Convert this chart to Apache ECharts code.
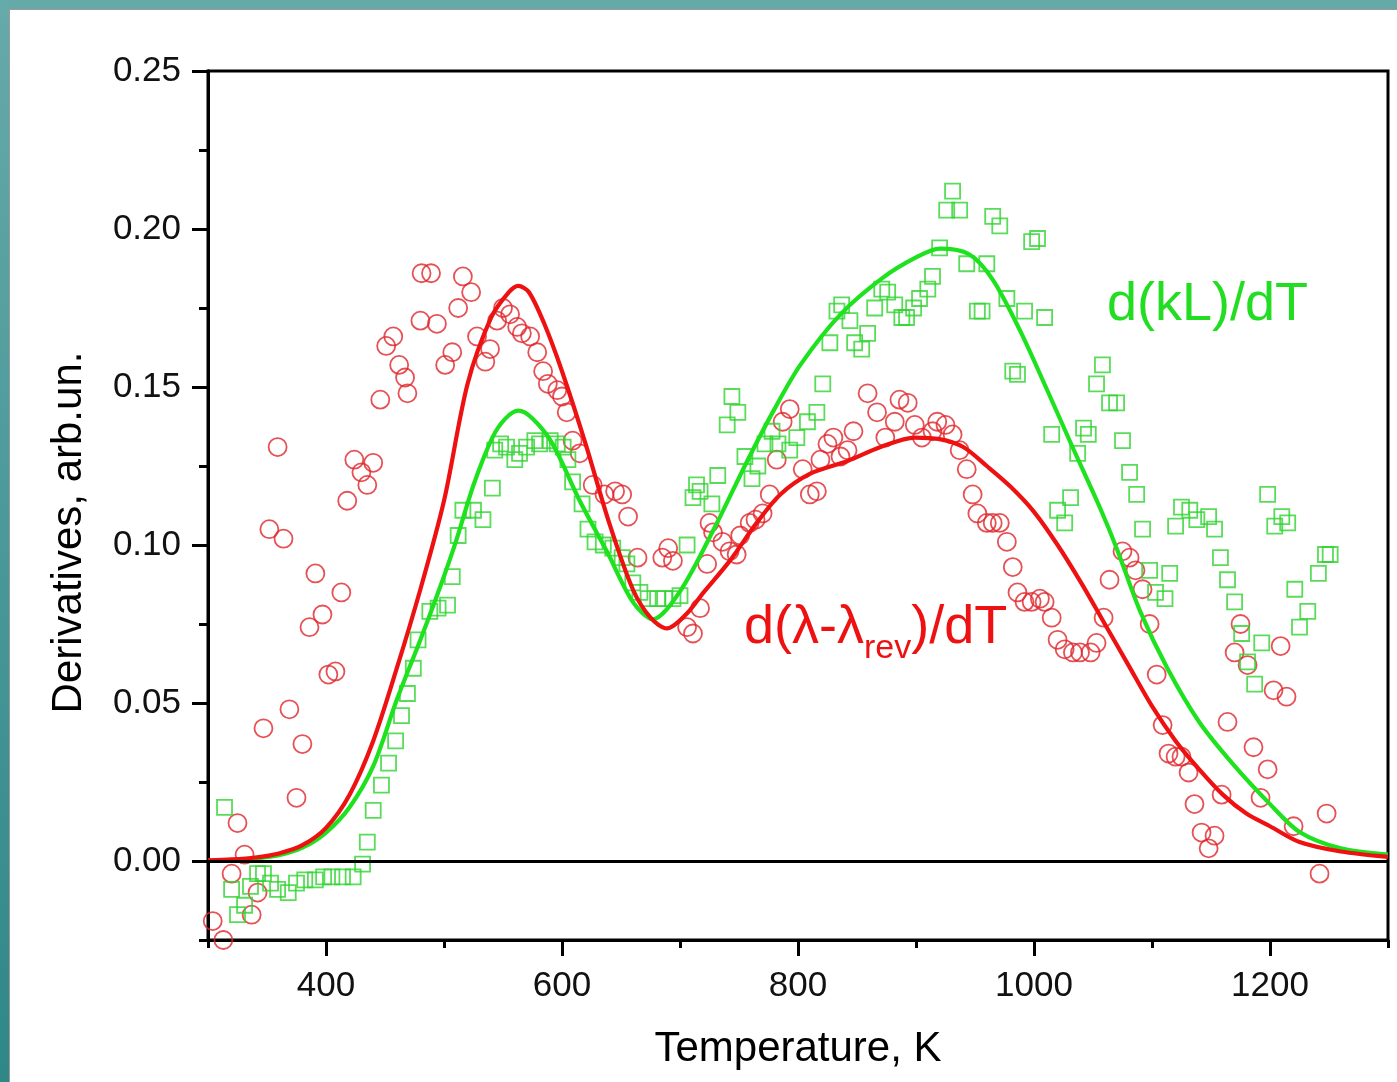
<!DOCTYPE html>
<html>
<head>
<meta charset="utf-8">
<script src="https://cdn.jsdelivr.net/npm/echarts@6/dist/echarts.min.js"></script>
<style>
html,body{margin:0;padding:0;background:#fff;}
#chart{width:1397px;height:1082px;}
</style>
</head>
<body>
<div id="chart"></div>
<script>
// ---- axis ticks ----
const tempTicks = [400, 600, 800, 1000, 1200];
const tempMinor = [300, 500, 700, 900, 1100, 1300];
const derivTicks = [0, 0.05, 0.10, 0.15, 0.20, 0.25];
const derivMinor = [-0.025, 0.025, 0.075, 0.125, 0.175, 0.225];

// ---- fitted curves ----
const lambdaFitT = [300, 320, 340, 360, 380, 400, 420, 440, 460, 480, 500, 520, 540, 555, 563, 572, 585, 600, 620, 640, 660, 675, 689, 705, 720, 742, 765, 785, 810, 842, 870, 899, 920, 940, 960, 980, 1000, 1020, 1040, 1060, 1080, 1100, 1120, 1140, 1160, 1180, 1200, 1225, 1260, 1300];
const lambdaFitV = [0.0002, 0.0005, 0.0011, 0.0024, 0.0050, 0.0105, 0.021, 0.038, 0.061, 0.086, 0.114, 0.151, 0.172, 0.180, 0.182, 0.180, 0.170, 0.155, 0.132, 0.107, 0.086, 0.077, 0.0736, 0.078, 0.085, 0.0949, 0.107, 0.116, 0.1225, 0.1266, 0.131, 0.134, 0.1335, 0.131, 0.125, 0.1185, 0.1105, 0.100, 0.088, 0.075, 0.062, 0.049, 0.038, 0.029, 0.021, 0.015, 0.011, 0.006, 0.003, 0.0013];

const kLFitT = [300, 320, 340, 360, 380, 400, 420, 440, 460, 480, 497, 510, 525, 541, 552, 563, 575, 592, 615, 638, 660, 677, 700, 730, 757, 780, 802, 836, 872, 900, 920, 945, 965, 988, 1010, 1033, 1056, 1070, 1090, 1113, 1140, 1169, 1200, 1225, 1260, 1300];
const kLFitV = [0.0001, 0.0003, 0.0008, 0.0018, 0.0042, 0.0090, 0.017, 0.030, 0.051, 0.070, 0.087, 0.101, 0.119, 0.134, 0.140, 0.1425, 0.140, 0.132, 0.114, 0.098, 0.082, 0.0765, 0.0853, 0.106, 0.1266, 0.143, 0.157, 0.173, 0.1846, 0.191, 0.1938, 0.192, 0.184, 0.168, 0.150, 0.1307, 0.1117, 0.099, 0.079, 0.061, 0.044, 0.0305, 0.018, 0.0092, 0.004, 0.002];

// ---- measured points: d(lambda - lambda_rev)/dT (circles) ----
const lambdaPoints = [
  [304,-0.019],[313,-0.025],[320,-0.004],[325,0.012],[331,0.002],[337,-0.017],[342,-0.010],[347,0.042],[352,0.105],[359,0.131],
  [364,0.102],[369,0.048],[375,0.020],[380,0.037],[386,0.074],[391,0.091],[397,0.078],[402,0.059],[408,0.060],[413,0.085],
  [418,0.114],[424,0.127],[430,0.123],[435,0.119],[440,0.126],
  [446,0.146],[451,0.163],[457,0.166],[462,0.157],[467,0.153],[469,0.148],[481,0.186],[489,0.186],[480,0.171],[494,0.170],
  [501,0.157],[507,0.161],[516,0.185],[523,0.180],[512,0.175],[528,0.166],[539,0.162],[535,0.158],
  [550,0.175],[556,0.173],[545,0.171],[562,0.169],[566,0.167],[573,0.166],[579,0.161],[584,0.155],[588,0.151],[596,0.149],
  [600,0.147],[604,0.142],[609,0.133],[615,0.129],[626,0.119],[636,0.116],[645,0.117],[651,0.116],[656,0.109],[664,0.096],
  [685,0.096],[690,0.099],[694,0.095],[706,0.074],[711,0.072],[717,0.080],
  [723,0.094],[725,0.107],[728,0.104],[736,0.101],[742,0.098],[748,0.097],[751,0.103],[759,0.107],[764,0.108],[770,0.110],
  [776,0.116],[782,0.127],[787,0.139],[793,0.143],[804,0.124],[810,0.116],[816,0.117],[819,0.127],[825,0.132],[830,0.134],
  [836,0.128],[842,0.130],[847,0.136],[859,0.148],[867,0.142],[874,0.134],[882,0.139],[886,0.146],[893,0.145],[899,0.138],
  [905,0.134],[914,0.136],[918,0.139],[925,0.138],[931,0.135],[937,0.130],[943,0.124],[948,0.116],[952,0.110],
  [960,0.107],[965,0.107],[971,0.107],[977,0.101],[982,0.093],[986,0.085],[992,0.082],[998,0.082],[1005,0.083],[1009,0.082],
  [1015,0.077],[1020,0.070],[1026,0.067],[1033,0.066],[1039,0.066],[1048,0.066],[1053,0.069],[1059,0.077],[1064,0.089],
  [1075,0.098],[1081,0.096],[1086,0.092],[1092,0.086],[1098,0.075],[1104,0.059],
  [1109,0.043],[1114,0.034],[1120,0.033],[1125,0.033],[1131,0.028],[1136,0.018],[1142,0.009],[1148,0.004],[1153,0.008],
  [1159,0.021],[1164,0.044],[1170,0.066],[1175,0.075],[1181,0.062],[1186,0.036],[1192,0.020],[1198,0.029],[1203,0.054],
  [1209,0.068],[1214,0.052],[1220,0.011],[1242,-0.004],[1248,0.015]
];

// ---- measured points: d(kL)/dT (squares) ----
const kLPoints = [
  [314,0.017],[320,-0.009],[325,-0.017],[331,-0.014],[336,-0.008],[342,-0.004],[347,-0.004],[353,-0.007],[359,-0.009],[368,-0.010],
  [375,-0.007],[382,-0.006],[391,-0.006],[398,-0.005],[405,-0.005],[414,-0.005],[423,-0.005],[431,-0.001],[435,0.006],[440,0.016],
  [447,0.024],[453,0.031],[459,0.038],[464,0.046],[469,0.053],[474,0.061],[478,0.070],[488,0.079],[495,0.080],[503,0.081],
  [507,0.090],[512,0.103],[516,0.111],[525,0.111],[533,0.108],[541,0.118],[543,0.130],[548,0.132],[553,0.131],[560,0.127],
  [564,0.129],[570,0.131],[577,0.133],[581,0.132],[590,0.133],[596,0.132],[601,0.131],[605,0.127],[609,0.120],[617,0.113],
  [622,0.105],[628,0.101],[635,0.100],[643,0.099],[651,0.096],[655,0.094],[660,0.088],[666,0.085],[673,0.083],[681,0.083],
  [687,0.083],[694,0.083],[700,0.084],[706,0.100],[711,0.115],[714,0.119],[717,0.117],[727,0.113],[732,0.122],[744,0.147],
  [749,0.142],[740,0.138],[755,0.128],[761,0.121],[766,0.125],[772,0.132],[778,0.136],[783,0.132],[793,0.130],[799,0.134],
  [808,0.139],[816,0.142],[821,0.151],[827,0.164],[833,0.174],[837,0.176],[844,0.171],[848,0.164],[854,0.162],[859,0.167],
  [865,0.175],[871,0.181],[876,0.180],[882,0.176],[888,0.172],[892,0.172],[898,0.175],[903,0.178],[910,0.181],[914,0.185],
  [920,0.194],[926,0.206],[931,0.212],[937,0.206],[943,0.189],[960,0.189],[965,0.204],[971,0.201],[952,0.174],[956,0.174],
  [977,0.178],[992,0.174],[998,0.196],[1003,0.197],[1009,0.172],[982,0.155],[986,0.154],
  [1058,0.157],[1053,0.151],[1064,0.145],[1070,0.145],[1015,0.135],[1042,0.137],[1046,0.135],[1037,0.129],[1075,0.133],
  [1081,0.123],[1087,0.116],[1031,0.115],[1020,0.111],[1026,0.107],[1092,0.105],[1120,0.106],[1125,0.112],[1132,0.111],
  [1138,0.108],[1148,0.109],[1153,0.105],[1158,0.096],[1098,0.092],[1115,0.091],[1103,0.085],[1111,0.083],
  [1164,0.089],[1170,0.082],[1176,0.072],[1181,0.063],[1187,0.056],[1193,0.069],[1198,0.116],[1204,0.106],[1210,0.109],
  [1215,0.107],[1221,0.086],[1225,0.074],[1232,0.079],[1241,0.091],[1247,0.097],[1251,0.097]
];

const FONT = '"Liberation Sans", Arial, Helvetica, sans-serif';
const RED = '#ee1111';
const RED_PT = '#e0262b';
const GREEN = '#1de21d';
const GREEN_PT = '#2fd32f';

function zip(a, b) { return a.map((t, i) => [t, b[i]]); }

const chart = echarts.init(document.getElementById('chart'), null, {renderer: 'canvas'});

const xBase = {
  type: 'value', min: 300, max: 1300, position: 'bottom',
  splitLine: {show: false},
  axisLine: {onZero: false, lineStyle: {color: '#000', width: 3}}
};
const yBase = {
  type: 'value', min: -0.025, max: 0.25, position: 'left',
  splitLine: {show: false},
  axisLine: {onZero: false, lineStyle: {color: '#000', width: 3}}
};

chart.setOption({
  animation: false,
  backgroundColor: '#ffffff',
  grid: {left: 208, top: 71, right: 9, bottom: 142, show: true, borderColor: '#000', borderWidth: 3, backgroundColor: 'transparent'},
  xAxis: [
    Object.assign({}, xBase, {
      name: 'Temperature, K', nameLocation: 'middle', nameGap: 88,
      nameTextStyle: {fontSize: 42, color: '#000', fontFamily: FONT, verticalAlign: 'top'},
      axisTick: {show: true, inside: false, length: 16, customValues: tempTicks, lineStyle: {color: '#000', width: 3}},
      axisLabel: {show: true, customValues: tempTicks, fontSize: 35, color: '#111', fontFamily: FONT, margin: 29,
        formatter: v => String(v)}
    }),
    Object.assign({}, xBase, {
      axisTick: {show: true, inside: false, length: 8, customValues: tempMinor, lineStyle: {color: '#000', width: 3}},
      axisLabel: {show: false}
    })
  ],
  yAxis: [
    Object.assign({}, yBase, {
      name: 'Derivatives, arb.un.', nameLocation: 'middle', nameGap: 118, nameRotate: 90,
      nameTextStyle: {fontSize: 42, color: '#000', fontFamily: FONT, padding: [0, 54, 0, 0]},
      axisTick: {show: true, inside: false, length: 16, customValues: derivTicks, lineStyle: {color: '#000', width: 3}},
      axisLabel: {show: true, customValues: derivTicks, fontSize: 35, color: '#111', fontFamily: FONT, margin: 27,
        formatter: v => v.toFixed(2)}
    }),
    Object.assign({}, yBase, {
      axisTick: {show: true, inside: false, length: 9, customValues: derivMinor, lineStyle: {color: '#000', width: 3}},
      axisLabel: {show: false}
    })
  ],
  series: [
    {
      name: 'd(λ-λrev)/dT points', type: 'scatter', data: lambdaPoints,
      symbol: 'circle', symbolSize: 18,
      itemStyle: {color: 'rgba(0,0,0,0)', borderColor: RED_PT, borderWidth: 1.8},
      z: 2
    },
    {
      name: 'd(kL)/dT points', type: 'scatter', data: kLPoints,
      symbol: 'rect', symbolSize: 15,
      itemStyle: {color: 'rgba(0,0,0,0)', borderColor: GREEN_PT, borderWidth: 1.8},
      z: 2
    },
    {
      name: 'd(kL)/dT fit', type: 'line', data: zip(kLFitT, kLFitV),
      smooth: 0.3, showSymbol: false, symbol: 'none',
      lineStyle: {color: GREEN, width: 4.2}, z: 3
    },
    {
      name: 'd(λ-λrev)/dT fit', type: 'line', data: zip(lambdaFitT, lambdaFitV),
      smooth: 0.3, showSymbol: false, symbol: 'none',
      lineStyle: {color: RED, width: 4.2}, z: 4,
      markLine: {
        silent: true, symbol: ['none', 'none'], label: {show: false},
        lineStyle: {color: '#000', width: 3, type: 'solid'},
        data: [{yAxis: 0}]
      }
    }
  ],
  graphic: [
    {type: 'rect', left: 0, top: 0, shape: {width: 1397, height: 9}, style: {fill: '#65a9a9'}, z: 100},
    {type: 'rect', left: 0, top: 0, shape: {width: 9, height: 1082},
      style: {fill: new echarts.graphic.LinearGradient(0, 0, 0, 1, [{offset: 0, color: '#66aaaa'}, {offset: 1, color: '#2f8787'}])}, z: 100},
    {type: 'rect', left: 9, top: 9, shape: {width: 1388, height: 1}, style: {fill: '#9a9a9a'}, z: 100},
    {type: 'rect', left: 9, top: 9, shape: {width: 1, height: 1073}, style: {fill: '#9a9a9a'}, z: 100},
    {type: 'text', x: 1107, y: 278, z: 50,
      style: {text: 'd(kL)/dT', fill: '#22dd22', font: '54px ' + FONT}},
    {type: 'text', x: 744, y: 601, z: 50,
      style: {
        text: '{a|d(λ-λ}{s|rev}{a|)/dT}',
        fill: '#ee1111',
        rich: {
          a: {fontSize: 54, lineHeight: 54, fontFamily: FONT, fill: '#ee1111', verticalAlign: 'top'},
          s: {fontSize: 34, lineHeight: 34, fontFamily: FONT, fill: '#ee1111', verticalAlign: 'top', padding: [31, 0, 0, 0]}
        }
      }}
  ]
});
</script>
</body>
</html>
